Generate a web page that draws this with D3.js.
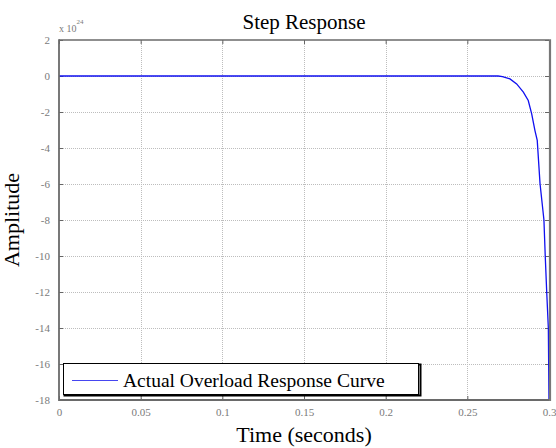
<!DOCTYPE html>
<html>
<head>
<meta charset="utf-8">
<script src="https://cdn.jsdelivr.net/npm/d3@7"></script>
<style>
  html, body { margin: 0; padding: 0; background: #fff; }
  svg { display: block; }
  text { font-family: "Liberation Serif", "Times New Roman", serif; }
</style>
</head>
<body>
<svg id="chart" width="556" height="448"></svg>
<script>
// Step response of the overload model; amplitudes in units of 10^24
const exponent = 24;
const timeTicks = [0, 0.05, 0.1, 0.15, 0.2, 0.25, 0.3];
const timeTickLabels = ["0", "0.05", "0.1", "0.15", "0.2", "0.25", "0.3"];
const ampTicks = [2, 0, -2, -4, -6, -8, -10, -12, -14, -16, -18];
const time = [0, 0.2688, 0.2715, 0.2761, 0.2802, 0.2843, 0.2873, 0.2894, 0.2914, 0.2928, 0.2945, 0.2969, 0.2977, 0.2986, 0.2996, 0.3];
const amplitude = [0, 0, -0.03, -0.16, -0.44, -0.90, -1.36, -2.10, -3.03, -3.58, -5.97, -8.0, -10.0, -12.0, -14.0, -18.0];
const seriesName = "Actual Overload Response Curve";

const svg = d3.select("#chart");
const m = { left: 59, top: 40, right: 549, bottom: 400 };

const x = d3.scaleLinear().domain([0, 0.3]).range([m.left, m.right]);
const y = d3.scaleLinear().domain([-18, 2]).range([m.bottom, m.top]);

// grid
const grid = svg.append("g").attr("stroke", "#bdbdbd").attr("stroke-width", 1)
  .attr("stroke-dasharray", "1,1");
grid.selectAll("line.vx").data(timeTicks.slice(1, -1)).join("line")
  .attr("x1", d => Math.round(x(d)) + 0.5).attr("x2", d => Math.round(x(d)) + 0.5)
  .attr("y1", m.top).attr("y2", m.bottom);
grid.selectAll("line.hy").data(ampTicks.slice(1, -1)).join("line")
  .attr("y1", d => Math.round(y(d)) + 0.5).attr("y2", d => Math.round(y(d)) + 0.5)
  .attr("x1", m.left).attr("x2", m.right);

// axes (inner ticks, gray labels)
const tickColor = "#666";
const bottomAxis = d3.axisBottom(x).tickValues(timeTicks).tickSize(-4)
  .tickFormat((d, i) => timeTickLabels[i]).tickPadding(8);
const topAxis = d3.axisTop(x).tickValues(timeTicks).tickSize(-4).tickFormat("");
const leftAxis = d3.axisLeft(y).tickValues(ampTicks).tickSize(-4).tickPadding(9)
  .tickFormat(d => String(d));
const rightAxis = d3.axisRight(y).tickValues(ampTicks).tickSize(-4).tickFormat("");

function styleAxis(g) {
  g.select(".domain").remove();
  g.selectAll(".tick line").attr("stroke", tickColor).attr("stroke-width", 1);
  g.selectAll(".tick text").attr("fill", "#7a7a7a")
    .attr("font-family", "Liberation Serif, serif").attr("font-size", 11);
}
svg.append("g").attr("transform", `translate(0,${m.bottom})`).call(bottomAxis).call(styleAxis);
svg.append("g").attr("transform", `translate(0,${m.top})`).call(topAxis).call(styleAxis);
svg.append("g").attr("transform", `translate(${m.left},0)`).call(leftAxis).call(styleAxis);
svg.append("g").attr("transform", `translate(${m.right},0)`).call(rightAxis).call(styleAxis);

// curve
svg.append("clipPath").attr("id", "plotClip").append("rect")
  .attr("x", m.left).attr("y", m.top).attr("width", m.right - m.left).attr("height", m.bottom - m.top + 1);
const line = d3.line().x((d, i) => x(time[i])).y(d => y(d));
svg.append("path").datum(amplitude)
  .attr("clip-path", "url(#plotClip)")
  .attr("fill", "none").attr("stroke", "#1010f0").attr("stroke-width", 1.3)
  .attr("d", line);

// frame
svg.append("line").attr("x1", m.left).attr("x2", m.right).attr("y1", m.top).attr("y2", m.top)
  .attr("stroke", "#6a6a6a").attr("stroke-width", 1.5);
svg.append("line").attr("x1", m.left).attr("x2", m.right + 1).attr("y1", m.bottom).attr("y2", m.bottom)
  .attr("stroke", "#6a6a6a").attr("stroke-width", 1.8);
svg.append("line").attr("x1", m.left).attr("x2", m.left).attr("y1", m.top - 0.75).attr("y2", m.bottom + 0.9)
  .attr("stroke", "#6a6a6a").attr("stroke-width", 1.8);
svg.append("line").attr("x1", m.right + 1).attr("x2", m.right + 1).attr("y1", m.top - 0.75).attr("y2", m.bottom + 0.9)
  .attr("stroke", "#777").attr("stroke-width", 2.2);

// exponent label
const ex = svg.append("text").attr("x", m.left).attr("y", 32).attr("fill", "#7a7a7a").attr("font-size", 10);
ex.append("tspan").text("x 10");
ex.append("tspan").attr("dy", -8).attr("font-size", 7).text(String(exponent));

// title and axis labels
svg.append("text").attr("x", (m.left + m.right) / 2).attr("y", 29).attr("text-anchor", "middle")
  .attr("font-size", 21).attr("fill", "#000").text("Step Response");
svg.append("text").attr("x", (m.left + m.right) / 2).attr("y", 442).attr("text-anchor", "middle")
  .attr("font-size", 22).attr("fill", "#000").text("Time (seconds)");
svg.append("text").attr("transform", `translate(19,${(m.top + m.bottom) / 2}) rotate(-90)`)
  .attr("text-anchor", "middle").attr("font-size", 22).attr("fill", "#000").text("Amplitude");

// legend
const lg = svg.append("g");
lg.append("rect").attr("x", 64.5).attr("y", 364.5).attr("width", 356).attr("height", 31)
  .attr("fill", "none").attr("stroke", "#000").attr("stroke-width", 2);
lg.append("rect").attr("x", 63.5).attr("y", 363.5).attr("width", 355).attr("height", 31)
  .attr("fill", "#fff").attr("stroke", "#000").attr("stroke-width", 1);
lg.append("line").attr("x1", 72).attr("x2", 118).attr("y1", 380.5).attr("y2", 380.5)
  .attr("stroke", "#4646f0").attr("stroke-width", 1.2);
lg.append("text").attr("x", 123).attr("y", 387).attr("font-size", 19.5).attr("fill", "#000")
  .text(seriesName);
</script>
</body>
</html>
